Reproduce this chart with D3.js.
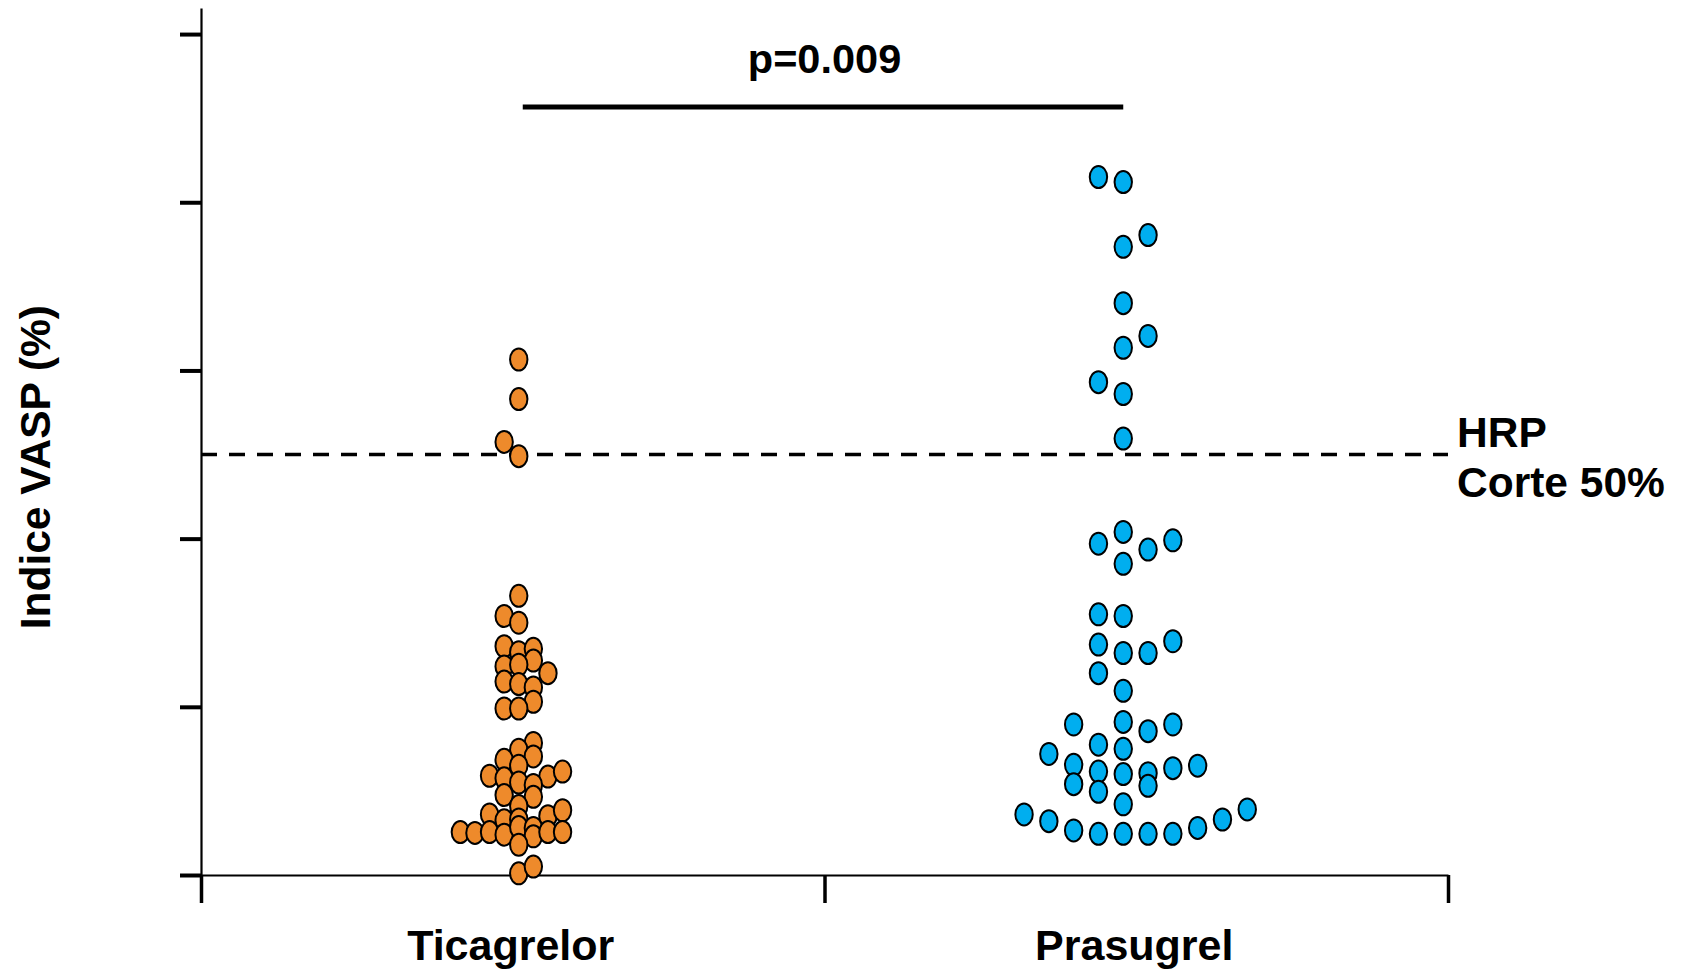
<!DOCTYPE html>
<html>
<head>
<meta charset="utf-8">
<script src="https://cdn.jsdelivr.net/npm/d3@7"></script>
<style>
  body { margin: 0; background: #fff; }
  text { font-family: "Liberation Sans", Arial, Helvetica, sans-serif; font-weight: bold; fill: #000; }
</style>
</head>
<body>
<svg id="chart" width="1682" height="970"></svg>
<script>
// groups on the x axis
var groups = ["Ticagrelor", "Prasugrel"];

// Indice VASP (%) per patient, with the dot's column in the swarm
var ticagrelor_values = [61.3, 56.6, 51.5, 49.8,
  33.2, 30.8, 30.0, 27.2, 26.5, 26.9, 25.5, 24.8, 25.0, 24.0, 23.0, 22.7, 22.3, 20.6, 19.8, 19.8,
  15.7, 14.9, 14.1, 13.7, 13.0, 11.8, 11.5, 11.0, 11.7, 12.3, 10.7, 9.3, 9.5, 8.2,
  7.2, 6.5, 6.6, 7.0, 7.7, 5.1, 5.0, 5.1, 4.8, 5.7, 5.6, 4.6, 5.1, 5.1, 3.6, 0.2, 1.0];
var ticagrelor_cols = [0, 0, -1, 0,
  0, -1, 0, -1, 0, 1, 1, -1, 0, 2, -1, 0, 1, 1, -1, 0,
  1, 0, 1, -1, 0, -2, -1, 0, 2, 3, 1, 1, -1, 0,
  -2, -1, 0, 2, 3, -4, -3, -2, -1, 0, 1, 1, 2, 3, 0, 0, 1];

var prasugrel_values = [83.0, 82.4, 76.1, 74.7, 68.0, 64.1, 62.7, 58.6, 57.2, 51.9,
  40.8, 39.4, 38.7, 39.8, 37.0, 31.0, 30.8, 27.4, 26.4, 26.4, 27.8, 24.0, 21.9,
  17.9, 18.2, 17.1, 17.9, 15.5, 15.0, 14.4, 13.1, 12.3, 12.0, 12.1, 12.7, 13.0,
  10.8, 9.9, 10.6, 8.4, 7.2, 6.4, 5.3, 4.9, 4.9, 4.9, 4.9, 5.6, 6.6, 7.8];
var prasugrel_cols = [-1, 0, 1, 0, 0, 1, 0, -1, 0, 0,
  0, -1, 1, 2, 0, -1, 0, -1, 0, 1, 2, -1, 0,
  -2, 0, 1, 2, -1, 0, -3, -2, -1, 0, 1, 2, 3,
  -2, -1, 1, 0, -4, -3, -2, -1, 0, 1, 2, 3, 4, 5];

var y_ticks = [0, 20, 40, 60, 80, 100];
var cutoff = 50;
var p_label = "p=0.009";
var cutoff_label = ["HRP", "Corte 50%"];

var svg = d3.select("#chart");

var x = d3.scaleLinear().domain([0, 2]).range([201, 1448]);
var y = d3.scaleLinear().domain([0, 103.1]).range([875, 8]);

var series = [
  {name: groups[0], values: ticagrelor_values, cols: ticagrelor_cols, color: "#EE8A2B", shift: 6, step: 14.6},
  {name: groups[1], values: prasugrel_values, cols: prasugrel_cols, color: "#00AEEF", shift: -13, step: 24.8}
];

/*
* Axes
*/
var y_axis = svg.append("g")
  .attr("transform", "translate(201,0)")
  .call(d3.axisLeft(y).tickValues(y_ticks).tickFormat("").tickSize(21).tickSizeOuter(0));
y_axis.select(".domain").attr("stroke-width", 2.2);
y_axis.selectAll(".tick line").attr("stroke-width", 4);

var x_axis = svg.append("g")
  .attr("transform", "translate(0,875)")
  .call(d3.axisBottom(x).tickValues([0, 1, 2]).tickFormat("").tickSize(28).tickSizeOuter(0));
x_axis.select(".domain").attr("stroke-width", 2.2);
x_axis.selectAll(".tick line").attr("stroke-width", 3.5);

svg.selectAll(".group-label")
  .data(groups)
  .enter()
  .append("text")
  .attr("class", "group-label")
  .attr("x", function(d, i) { return x(i + 0.5) - 2; })
  .attr("y", 960)
  .attr("text-anchor", "middle")
  .attr("font-size", 43)
  .text(function(d) { return d; });

svg.append("text")
  .attr("transform", "translate(50," + y(48.5) + ") rotate(-90)")
  .attr("text-anchor", "middle")
  .attr("font-size", 42.5)
  .text("Indice VASP (%)");

/*
* Cut-off line
*/
svg.append("line")
  .attr("x1", x(0))
  .attr("x2", x(2))
  .attr("y1", y(cutoff))
  .attr("y2", y(cutoff))
  .attr("stroke", "#000")
  .attr("stroke-width", 3.5)
  .attr("stroke-dasharray", "16,12");

svg.selectAll(".cut-label")
  .data(cutoff_label)
  .enter()
  .append("text")
  .attr("class", "cut-label")
  .attr("x", 1457)
  .attr("y", function(d, i) { return 447 + i * 50; })
  .attr("font-size", 42.5)
  .text(function(d) { return d; });

/*
* Dots
*/
series.forEach(function(s, gi) {
  var cx = x(gi + 0.5) + s.shift;
  svg.append("g").selectAll("ellipse")
    .data(s.values)
    .enter()
    .append("ellipse")
    .attr("cx", function(d, i) { return cx + s.cols[i] * s.step; })
    .attr("cy", function(d) { return y(d); })
    .attr("rx", 8.7)
    .attr("ry", 11)
    .attr("fill", s.color)
    .attr("stroke", "#000")
    .attr("stroke-width", 2);
});

/*
* Significance bar
*/
var bar_y = 107;
svg.append("line")
  .attr("x1", x(0.5) + series[0].shift + 4)
  .attr("x2", x(1.5) + series[1].shift)
  .attr("y1", bar_y)
  .attr("y2", bar_y)
  .attr("stroke", "#000")
  .attr("stroke-width", 5);

svg.append("text")
  .attr("x", x(1))
  .attr("y", 73)
  .attr("text-anchor", "middle")
  .attr("font-size", 41.5)
  .text(p_label);
</script>
</body>
</html>
